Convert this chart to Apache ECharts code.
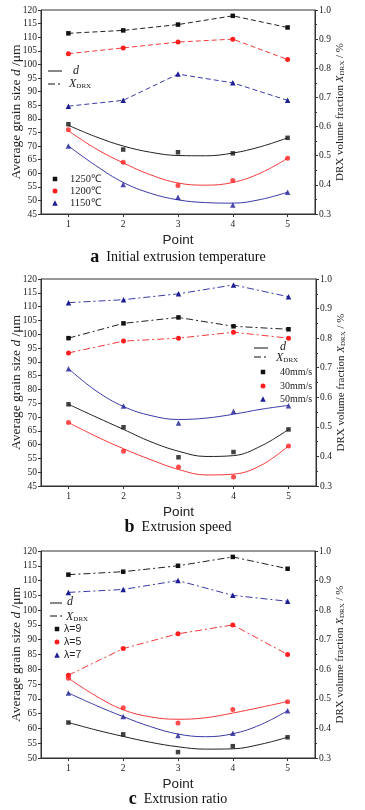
<!DOCTYPE html>
<html><head><meta charset="utf-8">
<script src="https://cdn.jsdelivr.net/npm/echarts@6/dist/echarts.min.js"></script>
<style>html,body{margin:0;padding:0;background:#fff}#c{width:365px;height:810px}</style>
</head><body><div id="c"></div>
<script>
// ---------- data ----------
const points = [1, 2, 3, 4, 5];
const fitX = [1, 1.5, 2, 2.5, 3, 3.5, 4, 4.5, 5];
const leftTicksA = [45, 120], leftTicksB = [45, 120], leftTicksC = [50, 120];
const rightRange = [0.3, 1.0];

// panel a: initial extrusion temperature
const aNames = ['1250℃', '1200℃', '1150℃'];
const a_grain_1250 = [78, 68.7, 67.7, 67.3, 73];
const a_grain_1200 = [76, 64, 55.5, 57.3, 65.5];
const a_grain_1150 = [70, 55.8, 51.2, 48.3, 53];
const a_fit_1250 = [77.6, 73.4, 70, 67.7, 66.5, 66.4, 67.4, 69.7, 73];
const a_fit_1200 = [75.6, 69, 63.8, 59.4, 56.4, 55.6, 56.6, 60, 65.5];
const a_fit_1150 = [70, 62.8, 56.6, 52.6, 50.2, 49.2, 49, 50.3, 53];
const a_drx_1250 = [0.92, 0.93, 0.95, 0.98, 0.94];
const a_drx_1200 = [0.85, 0.87, 0.89, 0.90, 0.83];
const a_drx_1150 = [0.67, 0.69, 0.78, 0.75, 0.69];

// panel b: extrusion speed
const bNames = ['40mm/s', '30mm/s', '50mm/s'];
const b_grain_40 = [74.6, 66.3, 55.4, 57.3, 65.5];
const b_grain_30 = [68, 57.6, 51.9, 48.3, 59.5];
const b_grain_50 = [87.5, 74, 67.8, 72.1, 74.1];
const b_fit_40 = [74.6, 70, 65.5, 61, 57.6, 55.7, 56, 59.5, 65.5];
const b_fit_30 = [68, 63, 58.5, 54.5, 51, 49, 49.3, 52.5, 59.5];
const b_fit_50 = [87.5, 79.5, 73.8, 70.5, 69.1, 69.6, 71, 72.8, 74.2];
const b_drx_40 = [0.80, 0.85, 0.87, 0.84, 0.83];
const b_drx_30 = [0.75, 0.79, 0.80, 0.82, 0.80];
const b_drx_50 = [0.92, 0.93, 0.95, 0.98, 0.94];

// panel c: extrusion ratio
const cNames = ['λ=9', 'λ=5', 'λ=7'];
const c_grain_9 = [62, 58, 52, 54, 57];
const c_grain_5 = [77, 67, 61.8, 66.4, 69];
const c_grain_7 = [72, 64, 57.6, 58.4, 66];
const c_fit_9 = [62, 59.5, 57.3, 55.3, 53.8, 53, 53.1, 54.6, 57];
const c_fit_5 = [77, 71, 66.3, 63.9, 63.1, 63.6, 65.2, 67.1, 69.1];
const c_fit_7 = [72, 67.8, 64, 60.6, 58.1, 57.2, 58.2, 61.2, 66];
const c_drx_9 = [0.92, 0.93, 0.95, 0.98, 0.94];
const c_drx_5 = [0.58, 0.67, 0.72, 0.75, 0.65];
const c_drx_7 = [0.86, 0.87, 0.90, 0.85, 0.83];

const captions = [['a', 'Initial extrusion temperature'], ['b', 'Extrusion speed'], ['c', 'Extrusion ratio']];

// ---------- styles ----------
const SERIF = 'Liberation Serif';
const SANS = 'Liberation Sans';
const BLACK = '#111111', RED = '#ff1f1f', BLUE = '#1d1d94';
const BLUE_LINE = '#3a3aa8', RED_LINE = '#f23a3a', BLACK_LINE = '#222222';
const symSize = { rect: 4.5, circle: 5, triangle: 5.5 };
const DASH = [5, 3];
const DASHDOT = [7, 3, 2, 3];

const grids = [
  { left: 41, top: 10, width: 274, height: 204 },
  { left: 41, top: 279, width: 275, height: 207 },
  { left: 41, top: 551, width: 274, height: 207 }
];
const leftRanges = [leftTicksA, leftTicksB, leftTicksC];

const xAxes = [], yAxes = [], series = [], graphic = [];
const axisLineStyle = { color: '#333', width: 1 };
const labelStyle = { fontFamily: SERIF, fontSize: 9.5, color: '#222' };

grids.forEach((g, i) => {
  g.show = true; g.borderColor = '#333'; g.borderWidth = 1; g.backgroundColor = 'transparent';
  g.containLabel = false; g.outerBoundsMode = 'none';
  xAxes.push({
    type: 'value', gridIndex: i, min: 0.5, max: 5.5,
    axisLine: { show: true, lineStyle: axisLineStyle },
    axisTick: { show: true, inside: false, length: 3, customValues: points, lineStyle: axisLineStyle },
    axisLabel: { customValues: points, margin: 5, ...labelStyle },
    splitLine: { show: false },
    name: 'Point', nameLocation: 'middle', nameGap: 19, nameMoveOverlap: false,
    nameTextStyle: { fontFamily: SANS, fontSize: 13.5, color: '#222' }
  });
  yAxes.push({
    type: 'value', gridIndex: i, position: 'left',
    min: leftRanges[i][0], max: leftRanges[i][1], interval: 5,
    axisLine: { show: true, lineStyle: axisLineStyle },
    axisTick: { show: true, inside: false, length: 3, lineStyle: axisLineStyle },
    axisLabel: { margin: 4, ...labelStyle },
    splitLine: { show: false },
    name: 'Average grain size {i|d} /μm', nameLocation: 'middle', nameGap: 18, nameRotate: 90,
    nameMoveOverlap: false,
    nameTextStyle: { fontFamily: SERIF, fontSize: 13.5, color: '#222',
      rich: { i: { fontFamily: SERIF, fontSize: 13.5, fontStyle: 'italic', color: '#222' } } }
  });
  yAxes.push({
    type: 'value', gridIndex: i, position: 'right',
    min: rightRange[0], max: rightRange[1], interval: 0.1,
    axisLine: { show: true, lineStyle: axisLineStyle },
    axisTick: { show: true, inside: false, length: 3, lineStyle: axisLineStyle },
    minorTick: { show: true, splitNumber: 2, length: 2, lineStyle: axisLineStyle },
    axisLabel: { margin: 4, ...labelStyle, formatter: v => v.toFixed(1) },
    splitLine: { show: false },
    name: 'DRX volume fraction {i|X}{s|DRX} / %', nameLocation: 'middle', nameGap: 20, nameRotate: 90,
    nameMoveOverlap: false,
    nameTextStyle: { fontFamily: SERIF, fontSize: 11, color: '#222',
      rich: { i: { fontFamily: SERIF, fontSize: 11, fontStyle: 'italic', color: '#222' },
              s: { fontFamily: SERIF, fontSize: 7, color: '#222', padding: [4, 0, 0, 0] } } }
  });
});

function addPanel(idx, groups, drxDash) {
  groups.forEach(gp => {
    const [name, grain, fit, drx, color, lineColor, symbol] = gp;
    series.push({
      type: 'line', name: name + ' XDRX', xAxisIndex: idx, yAxisIndex: idx * 2 + 1,
      data: points.map((x, k) => [x, drx[k]]),
      symbol: symbol, symbolSize: symSize[symbol],
      itemStyle: { color: color }, lineStyle: { color: lineColor, width: 1, type: drxDash },
      z: 3, animation: false, silent: true
    });
    series.push({
      type: 'line', name: name + ' fit', xAxisIndex: idx, yAxisIndex: idx * 2,
      data: fitX.map((x, k) => [x, fit[k]]), smooth: 0.4, showSymbol: false, symbol: 'none',
      lineStyle: { color: lineColor, width: 1 }, z: 2, animation: false, silent: true
    });
    series.push({
      type: 'scatter', name: name, xAxisIndex: idx, yAxisIndex: idx * 2,
      data: points.map((x, k) => [x, grain[k]]),
      symbol: symbol, symbolSize: symSize[symbol], itemStyle: { color: color },
      z: 4, animation: false, silent: true
    });
  });
}

addPanel(0, [
  [aNames[0], a_grain_1250, a_fit_1250, a_drx_1250, BLACK, BLACK_LINE, 'rect'],
  [aNames[1], a_grain_1200, a_fit_1200, a_drx_1200, RED, RED_LINE, 'circle'],
  [aNames[2], a_grain_1150, a_fit_1150, a_drx_1150, BLUE, BLUE_LINE, 'triangle']
], DASH);
addPanel(1, [
  [bNames[0], b_grain_40, b_fit_40, b_drx_40, BLACK, BLACK_LINE, 'rect'],
  [bNames[1], b_grain_30, b_fit_30, b_drx_30, RED, RED_LINE, 'circle'],
  [bNames[2], b_grain_50, b_fit_50, b_drx_50, BLUE, BLUE_LINE, 'triangle']
], DASHDOT);
addPanel(2, [
  [cNames[0], c_grain_9, c_fit_9, c_drx_9, BLACK, BLACK_LINE, 'rect'],
  [cNames[1], c_grain_5, c_fit_5, c_drx_5, RED, RED_LINE, 'circle'],
  [cNames[2], c_grain_7, c_fit_7, c_drx_7, BLUE, BLUE_LINE, 'triangle']
], DASHDOT);

// ---------- legends (graphic) ----------
function lineKey(x1, x2, y, dash) {
  return { type: 'line', shape: { x1: x1, y1: y, x2: x2, y2: y }, style: { stroke: '#111', lineWidth: 1, lineDash: dash }, z: 10 };
}
function txt(x, y, text, font, size, extra) {
  return { type: 'text', x: x, y: y, z: 10,
    style: Object.assign({ text: text, fontFamily: font, fontSize: size, fill: '#222', verticalAlign: 'middle', align: 'left' }, extra || {}) };
}
const richX = {
  i: { fontFamily: SERIF, fontSize: 12, fontStyle: 'italic', fill: '#222' },
  s: { fontFamily: SERIF, fontSize: 7, fill: '#222', padding: [5, 0, 0, 0] }
};
function symKey(x, y, symbol, color) {
  const s = symSize[symbol];
  if (symbol === 'rect') return { type: 'rect', shape: { x: x - s / 2, y: y - s / 2, width: s, height: s }, style: { fill: color }, z: 10 };
  if (symbol === 'circle') return { type: 'circle', shape: { cx: x, cy: y, r: s / 2 }, style: { fill: color }, z: 10 };
  return { type: 'polygon', shape: { points: [[x, y - s / 2], [x + s / 2, y + s / 2], [x - s / 2, y + s / 2]] }, style: { fill: color }, z: 10 };
}
const symList = [['rect', BLACK], ['circle', RED], ['triangle', BLUE]];

// panel a legend
graphic.push(lineKey(48, 62, 71, null));
graphic.push(txt(73, 71, 'd', SERIF, 12, { fontStyle: 'italic' }));
graphic.push(lineKey(48, 62, 84, DASHDOT));
graphic.push(txt(69, 84, '{i|X}{s|DRX}', SERIF, 12, { rich: richX }));
[179, 191, 203].forEach((y, k) => {
  graphic.push(symKey(55, y, symList[k][0], symList[k][1]));
  graphic.push(txt(70, y, aNames[k], SERIF, 10.5));
});

// panel b legend
graphic.push(lineKey(254, 268, 348, null));
graphic.push(txt(280, 347, 'd', SERIF, 12, { fontStyle: 'italic' }));
graphic.push(lineKey(254, 268, 357, DASHDOT));
graphic.push(txt(276, 358, '{i|X}{s|DRX}', SERIF, 12, { rich: richX }));
[372, 386, 399].forEach((y, k) => {
  graphic.push(symKey(263, y, symList[k][0], symList[k][1]));
  graphic.push(txt(280, y, bNames[k], SERIF, 10));
});

// panel c legend
graphic.push(lineKey(50, 62, 603, null));
graphic.push(txt(67, 602, 'd', SERIF, 12, { fontStyle: 'italic' }));
graphic.push(lineKey(50, 62, 616, DASHDOT));
graphic.push(txt(66, 617, '{i|X}{s|DRX}', SERIF, 12, { rich: richX }));
[629, 642, 655].forEach((y, k) => {
  graphic.push(symKey(57, y, symList[k][0], symList[k][1]));
  graphic.push(txt(64, y, cNames[k], SANS, 10.5));
});

// captions
[257, 527, 799].forEach((y, k) => {
  graphic.push({ type: 'text', x: 178, y: y, z: 10,
    style: { text: '{b|' + captions[k][0] + '}  ' + captions[k][1], fontFamily: SERIF, fontSize: 14, fill: '#111',
      align: 'center', verticalAlign: 'middle',
      rich: { b: { fontFamily: SERIF, fontSize: 18, fontWeight: 'bold', fill: '#111' } } } });
});

const chart = echarts.init(document.getElementById('c'), null, { renderer: 'canvas' });
chart.setOption({
  animation: false,
  backgroundColor: '#fff',
  grid: grids, xAxis: xAxes, yAxis: yAxes, series: series, graphic: graphic
});
</script></body></html>
